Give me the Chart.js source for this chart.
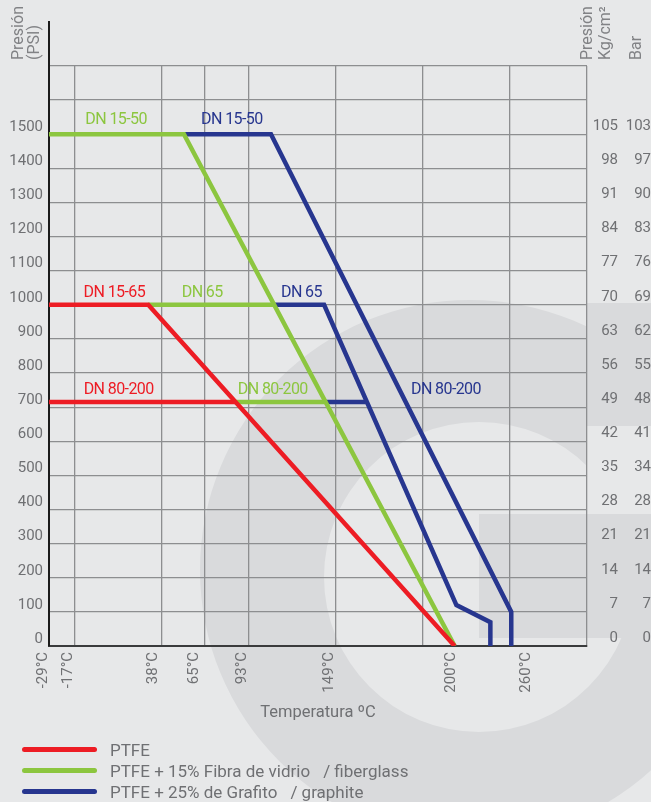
<!DOCTYPE html>
<html lang="es">
<head>
<meta charset="utf-8">
<title>Presión / Temperatura</title>
<script src="https://cdn.jsdelivr.net/npm/chart.js@4.4.1/dist/chart.umd.min.js"></script>
<style>
  html, body { margin: 0; padding: 0; background: #e7e8e9; }
  #page { position: relative; width: 651px; height: 802px; overflow: hidden; font-family: Roboto, "Open Sans", sans-serif; color: #6f7073; }
  #mark { position: absolute; left: 0; top: 0; }
  #wrap { position: absolute; left: 0; top: 0; width: 651px; height: 802px; }
  .vtitle { position: absolute; transform-origin: 0 0; transform: rotate(-90deg); white-space: nowrap; font-size: 16px; color: #818285; }
  #legend { position: absolute; left: 22px; top: 739px; }
  .row { display: flex; align-items: center; height: 21px; font-size: 17px; white-space: nowrap; }
  .swatch { width: 75px; height: 5px; border-radius: 3px; margin-right: 13px; }
  .note { margin-left: 13px; }
</style>
</head>
<body>
<div id="page">
  <svg id="mark" width="651" height="802">
    <rect width="651" height="802" fill="#e7e8e9"/>
    <path fill="#d9dadc" fill-rule="evenodd"
      d="M200 570a270 270 0 1 0 540 0a270 270 0 1 0 -540 0Z M324 577a155 155 0 1 0 310 0a155 155 0 1 0 -310 0Z"/>
    <rect x="587" y="303" width="64" height="123" fill="#d9dadc"/>
    <rect x="587" y="426" width="64" height="88" fill="#e7e8e9"/>
    <rect x="479" y="514" width="172" height="124" fill="#d9dadc"/>
  </svg>
  <div id="wrap"><canvas id="chart"></canvas></div>
  <div class="vtitle" style="left:10px; top:60px; line-height:16px;">Presión<br>(PSI)</div>
  <div class="vtitle" style="left:578px; top:60px; line-height:18px;">Presión<br>Kg/cm²</div>
  <div class="vtitle" style="left:627px; top:60px; line-height:18px;">Bar</div>
  <div id="legend"></div>
</div>

<script>
// x runs in °F (grid every 100 °F), the labels show the °C values
const xMin = -29, xMax = 589;
const gridF = [0, 100, 150, 200, 300, 400, 500, 589];
const tempLabels = ['-29°C', '-17°C', '38°C', '65°C', '93°C', '149°C', '200°C', '260°C'];
const tempLabelPos = [-29, 0, 98, 145, 200, 300, 440, 526];

const psiMax = 1700;
const psiLabels = [0, 100, 200, 300, 400, 500, 600, 700, 800, 900, 1000, 1100, 1200, 1300, 1400, 1500];
const kgLabels = ['0', '7', '14', '21', '28', '35', '42', '49', '56', '63', '70', '77', '84', '91', '98', '105'];
const barLabels = ['0', '7', '14', '21', '28', '34', '41', '48', '55', '62', '69', '76', '83', '90', '97', '103'];

// curves: [x (°F axis), psi]
const ptfeDN15_65 = [[-29, 1000], [85, 1000], [437, 0]];
const ptfeDN80_200 = [[-29, 715], [185, 715]];
const fiberDN15_50 = [[-29, 1500], [126, 1500], [437, 0]];
const fiberDN65 = [[85, 1000], [230, 1000]];
const fiberDN80_200 = [[185, 715], [289, 715]];
const graphDN15_50 = [[126, 1500], [226, 1500], [502, 100], [502, 0]];
const graphDN65 = [[230, 1000], [287, 1000], [439, 120], [478, 70], [478, 0]];
const graphDN80_200 = [[289, 715], [335, 715]];

const materials = ['PTFE', 'PTFE + 15% Fibra de vidrio', 'PTFE + 25% de Grafito'];
const materialNotes = ['', '/ fiberglass', '/ graphite'];
const colors = ['#ed1c24', '#8cc63f', '#27368f'];

// size labels: [text, material, x, psi (baseline)]
const sizeLabels = [
  ['DN 15-50', 1, 48, 1531], ['DN 15-50', 2, 181, 1531],
  ['DN 15-65', 0, 46, 1023], ['DN 65', 1, 147, 1023], ['DN 65', 2, 261, 1023],
  ['DN 80-200', 0, 51, 740], ['DN 80-200', 1, 228, 740], ['DN 80-200', 2, 427, 740]
];

const tickColor = '#6f7073';
const gridColor = '#8d8e90';
Chart.defaults.font.family = 'Roboto, "Open Sans", sans-serif';

const series = [
  [ptfeDN15_65, 0], [ptfeDN80_200, 0],
  [fiberDN15_50, 1], [fiberDN65, 1], [fiberDN80_200, 1],
  [graphDN15_50, 2], [graphDN65, 2], [graphDN80_200, 2]
];

const datasets = series.map(([pts, m]) => ({
  label: materials[m],
  data: pts.map(p => ({ x: p[0], y: p[1] })),
  borderColor: colors[m],
  borderWidth: 4.5,
  borderJoinStyle: 'miter',
  pointRadius: 0,
  tension: 0,
  fill: false
}));

const dnLabels = {
  id: 'dnLabels',
  afterDatasetsDraw(chart) {
    const { ctx, scales: { x, y } } = chart;
    ctx.save();
    ctx.font = '16px Roboto';
    ctx.letterSpacing = '-0.6px';
    ctx.textAlign = 'center';
    ctx.textBaseline = 'alphabetic';
    sizeLabels.forEach(([text, m, vx, vy]) => {
      ctx.fillStyle = colors[m];
      ctx.fillText(text, x.getPixelForValue(vx), y.getPixelForValue(vy));
    });
    ctx.restore();
  }
};

// the left axis line runs on above the grid
const axisOverhang = {
  id: 'axisOverhang',
  afterDraw(chart) {
    const { ctx, chartArea } = chart;
    ctx.save();
    ctx.strokeStyle = '#1b1b1b';
    ctx.lineWidth = 2;
    ctx.beginPath();
    ctx.moveTo(chartArea.left, chartArea.top + 1);
    ctx.lineTo(chartArea.left, chartArea.top - 45);
    ctx.stroke();
    ctx.restore();
  }
};

const tickFont = { size: 15 };

new Chart(document.getElementById('chart'), {
  type: 'line',
  data: { datasets },
  plugins: [dnLabels, axisOverhang],
  options: {
    responsive: true,
    maintainAspectRatio: false,
    animation: false,
    layout: { padding: { top: 66, left: 0, right: 0, bottom: 79 } },
    plugins: { legend: { display: false }, tooltip: { enabled: false } },
    scales: {
      x: {
        type: 'linear', position: 'bottom', min: xMin, max: xMax, weight: 0,
        afterBuildTicks: s => { s.ticks = gridF.map(v => ({ value: v })); },
        afterFit: s => { s.height = 0; },
        grid: { color: gridColor, lineWidth: 1.3, drawTicks: false },
        border: { color: '#3a3b3c', width: 2 },
        ticks: { display: false }
      },
      xLabels: {
        type: 'linear', position: 'bottom', min: xMin, max: xMax, weight: 1,
        afterBuildTicks: s => { s.ticks = tempLabelPos.map(v => ({ value: v })); },
        afterFit: s => { s.height = 77; },
        grid: { display: false, drawTicks: false },
        border: { display: false },
        ticks: {
          autoSkip: false, minRotation: 90, maxRotation: 90, padding: 6, labelOffset: -6,
          color: tickColor, font: tickFont,
          callback: (v, i) => tempLabels[i]
        },
        title: {
          display: true, text: 'Temperatura ºC', color: tickColor,
          font: { size: 16.5 }, padding: { top: 0, bottom: 0 }
        }
      },
      y: {
        type: 'linear', position: 'left', min: 0, max: psiMax, weight: 0,
        afterFit: s => { s.width = 49; },
        grid: {
          color: c => c.tick && c.tick.value === 0 ? 'rgba(0,0,0,0)' : gridColor,
          lineWidth: 1.3, drawTicks: false
        },
        border: { color: '#1b1b1b', width: 2 },
        ticks: {
          stepSize: 100, padding: 6, labelOffset: -7, color: tickColor, font: tickFont,
          callback: v => psiLabels.includes(v) ? String(v) : ''
        }
      },
      kg: {
        type: 'linear', position: 'right', min: 0, max: psiMax, weight: 0,
        afterFit: s => { s.width = 31; },
        grid: { display: false, drawTicks: false },
        border: { display: false },
        ticks: {
          stepSize: 100, padding: 4, crossAlign: 'far', labelOffset: -8,
          color: tickColor, font: tickFont,
          callback: (v, i) => kgLabels[i] ?? ''
        }
      },
      bar: {
        type: 'linear', position: 'right', min: 0, max: psiMax, weight: 1,
        afterFit: s => { s.width = 33; },
        grid: { display: false, drawTicks: false },
        border: { display: false },
        ticks: {
          stepSize: 100, padding: 6, crossAlign: 'far', labelOffset: -8,
          color: tickColor, font: tickFont,
          callback: (v, i) => barLabels[i] ?? ''
        }
      }
    }
  }
});

// legend
const legend = document.getElementById('legend');
materials.forEach((name, i) => {
  const row = document.createElement('div');
  row.className = 'row';
  row.innerHTML = `<span class="swatch" style="background:${colors[i]}"></span><span>${name}</span>` +
    (materialNotes[i] ? `<span class="note">${materialNotes[i]}</span>` : '');
  legend.appendChild(row);
});
</script>
</body>
</html>
